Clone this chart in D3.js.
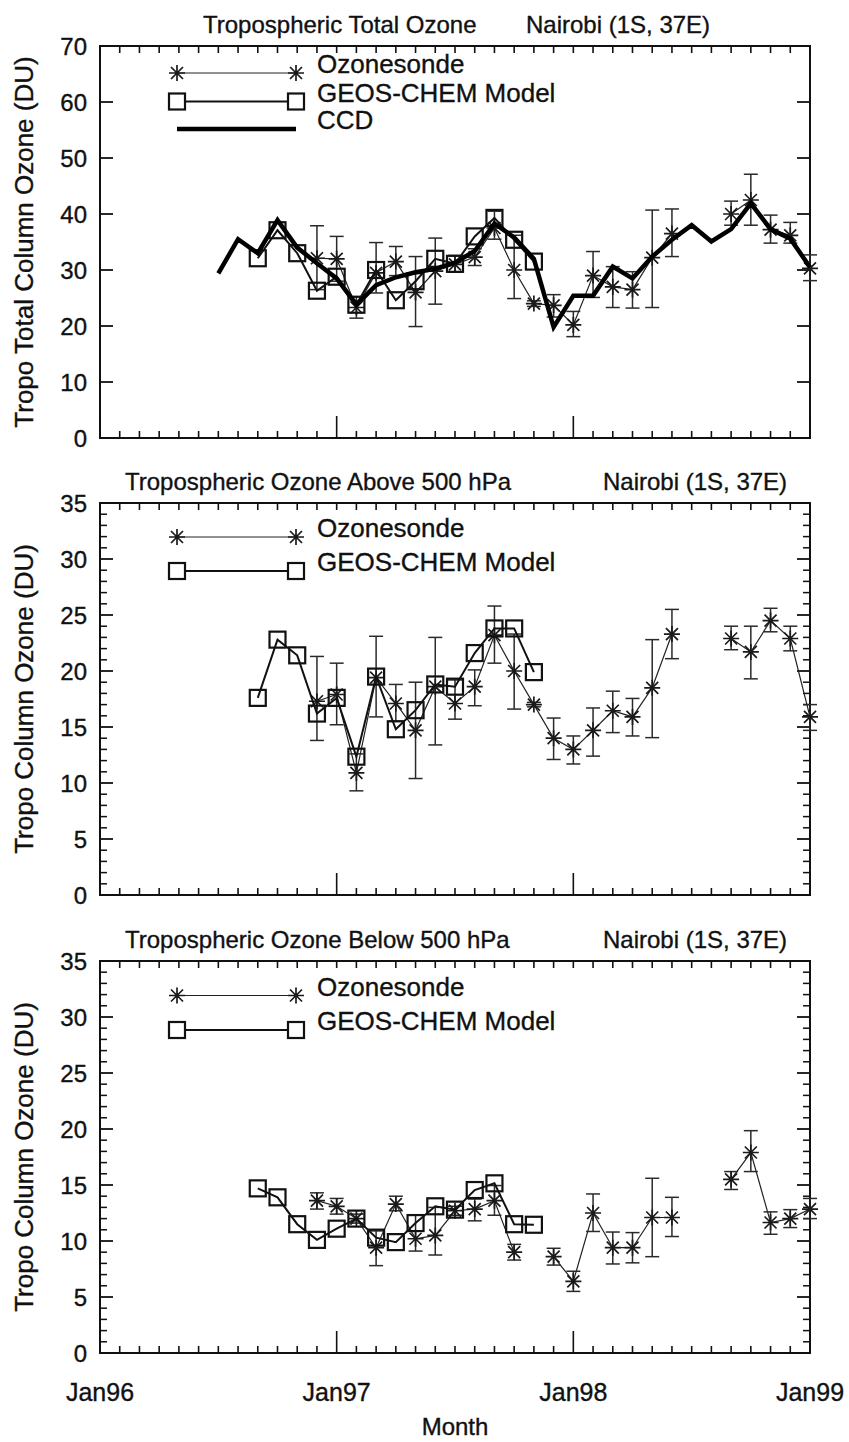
<!DOCTYPE html>
<html><head><meta charset="utf-8">
<script src="https://cdn.jsdelivr.net/npm/d3@7"></script>
<style>
body{margin:0;background:#fff}
svg text{font-family:"Liberation Sans",Arial,Helvetica,sans-serif;fill:#111;stroke:#111;stroke-width:0.35px}
</style>
</head><body>
<svg id="chart" width="849" height="1442"></svg>
<script>
// ---------------- DATA ----------------
const months = ["Jul96","Aug96","Sep96","Oct96","Nov96","Dec96","Jan97","Feb97","Mar97","Apr97","May97","Jun97",
  "Jul97","Aug97","Sep97","Oct97","Nov97","Dec97","Jan98","Feb98","Mar98","Apr98","May98","Jun98",
  "Jul98","Aug98","Sep98","Oct98","Nov98","Dec98","Jan99"];
const xTickLabels = ["Jan96","Jan97","Jan98","Jan99"];
const yTicksTotal = [0,10,20,30,40,50,60,70];
const yTicksHalf = [0,5,10,15,20,25,30,35];

// Panel 1: tropospheric total column ozone
const ccdTotal = [29.4,35.5,33.0,38.9,34.0,31.2,28.5,23.8,27.3,28.7,29.6,30.2,31.3,33.4,38.3,35.8,32.0,19.8,25.4,25.4,30.6,28.5,32.4,35.4,38.0,35.1,37.3,41.9,37.3,35.6,30.5];
const modelTotal = [null,null,32.1,37.1,33.0,26.3,28.8,23.8,30.0,24.6,28.0,32.0,31.1,36.0,39.3,35.4,31.5,null,null,null,null,null,null,null,null,null,null,null,null,null,null];
const sondeTotal = [null,null,null,null,null,32.1,32.0,23.3,29.5,31.5,26.0,29.8,31.0,32.3,37.5,30.0,24.0,23.7,20.2,29.0,27.0,26.5,32.2,36.5,null,null,40.0,42.5,37.2,36.2,30.3];
const sondeTotalLo = [null,null,null,null,null,26.5,28.0,21.4,25.9,29.0,19.9,23.9,29.6,30.8,35.5,24.9,23.5,21.6,18.1,25.1,23.3,23.2,23.3,32.4,null,null,38.0,38.0,34.8,34.8,28.1];
const sondeTotalHi = [null,null,null,null,null,37.9,36.0,25.2,34.9,34.2,32.4,35.7,32.6,33.8,40.5,36.2,24.5,25.6,22.6,33.3,30.6,29.7,40.7,40.9,null,null,42.3,47.1,39.8,38.5,32.7];

// Panel 2: above 500 hPa
const modelAbove = [null,null,17.6,22.8,21.4,16.2,17.6,12.35,19.5,14.8,16.5,18.8,18.6,21.6,23.8,23.8,19.9,null,null,null,null,null,null,null,null,null,null,null,null,null,null];
const sondeAbove = [null,null,null,null,null,17.3,17.9,10.9,19.4,17.1,14.7,18.6,17.1,18.6,23.2,20.0,17.0,14.0,13.0,14.7,16.45,15.9,18.5,23.3,null,null,22.9,21.7,24.5,22.9,15.9];
const sondeAboveLo = [null,null,null,null,null,13.8,15.2,9.3,15.9,15.5,10.4,13.4,15.7,16.9,20.7,16.6,16.8,12.1,11.7,12.4,14.5,14.2,14.05,21.1,null,null,21.9,19.3,23.5,21.8,14.7];
const sondeAboveHi = [null,null,null,null,null,21.3,20.7,12.6,23.1,18.8,19.0,23.0,19.2,20.1,25.8,23.3,17.2,15.8,14.2,16.7,18.2,17.55,22.8,25.5,null,null,24.0,24.0,25.6,24.0,17.0];

// Panel 3: below 500 hPa
const modelBelow = [null,null,14.7,13.9,11.5,10.1,11.1,12.0,10.3,9.9,11.6,13.1,12.8,14.55,15.15,11.5,11.45,null,null,null,null,null,null,null,null,null,null,null,null,null,null];
const sondeBelow = [null,null,null,null,null,13.6,13.1,12.0,9.4,13.3,10.2,10.5,12.7,12.85,13.6,9.0,null,8.6,6.4,12.5,9.4,9.4,12.1,12.1,null,null,15.5,17.9,11.65,12.0,12.85];
const sondeBelowLo = [null,null,null,null,null,12.85,12.4,11.6,7.8,12.7,9.1,8.75,12.3,11.8,12.3,8.3,null,7.85,5.5,10.85,7.95,8.05,8.6,10.4,null,null,14.6,16.2,10.6,11.2,12.0];
const sondeBelowHi = [null,null,null,null,null,14.3,13.8,12.4,10.9,14.0,12.3,13.0,13.1,13.75,14.95,9.7,null,9.35,7.3,14.2,10.8,10.75,15.6,13.9,null,null,16.2,19.85,12.6,12.8,13.8];

// ---------------- DRAW ----------------
const svg = d3.select("#chart");
svg.append("rect").attr("width",849).attr("height",1442).attr("fill","#fff");

const parseM = d3.timeParse("%b%y");
const monthIndex = s => { const d = parseM(s); return (d.getFullYear()-1996)*12 + d.getMonth(); };
const mIdx = months.map(monthIndex);

const L = 100, R = 810, H = 392;
const x = d3.scaleLinear().domain([0,36]).range([L,R]);

const panels = [
  {top:46, ymax:70, ticks:yTicksTotal, minor:false, title:"Tropospheric Total Ozone", titleX:203, siteX:526,
   ytitle:"Tropo Total Column Ozone (DU)", sonde:sondeTotal, lo:sondeTotalLo, hi:sondeTotalHi, model:modelTotal, ccd:ccdTotal,
   legendY:[73,101.5,129]},
  {top:503, ymax:35, ticks:yTicksHalf, minor:true, title:"Tropospheric Ozone Above 500 hPa", titleX:125, siteX:603,
   ytitle:"Tropo Column Ozone (DU)", sonde:sondeAbove, lo:sondeAboveLo, hi:sondeAboveHi, model:modelAbove, ccd:null,
   legendY:[537,571]},
  {top:961, ymax:35, ticks:yTicksHalf, minor:true, title:"Tropospheric Ozone Below 500 hPa", titleX:125, siteX:603,
   ytitle:"Tropo Column Ozone (DU)", sonde:sondeBelow, lo:sondeBelowLo, hi:sondeBelowHi, model:modelBelow, ccd:null,
   legendY:[995.5,1030]}
];

const ink = "#111";
const asterR = 8;
const asterPath = (r) => {
  const d = r*0.75;
  return `M0,${-r}V${r}M${-r},0H${r}M${-d},${-d}L${d},${d}M${-d},${d}L${d},${-d}`;
};
const sq = 16;

panels.forEach(p => {
  const g = svg.append("g");
  const y = d3.scaleLinear().domain([0,p.ymax]).range([p.top+H, p.top]);
  const B = p.top + H;

  // frame
  g.append("rect").attr("x",L).attr("y",p.top).attr("width",R-L).attr("height",H)
    .attr("fill","none").attr("stroke",ink).attr("stroke-width",2);

  // month ticks
  const monthTicks = d3.range(0,37);
  g.selectAll(".mt").data(monthTicks).join("line").attr("class","mt")
    .attr("x1",d=>x(d)).attr("x2",d=>x(d)).attr("y1",B).attr("y2",d=> (d%12===0)? B-22 : B-7)
    .attr("stroke",ink).attr("stroke-width",1.6);
  g.selectAll(".mtt").data(monthTicks).join("line").attr("class","mtt")
    .attr("x1",d=>x(d)).attr("x2",d=>x(d)).attr("y1",p.top).attr("y2",p.top+7)
    .attr("stroke",ink).attr("stroke-width",1.6);

  // minor y ticks (every 1 DU)
  if (p.minor) {
    const mt = y.ticks(p.ymax).filter(v => !p.ticks.includes(v));
    mt.forEach(v => {
      g.append("line").attr("x1",L).attr("x2",L+7).attr("y1",y(v)).attr("y2",y(v))
        .attr("stroke",ink).attr("stroke-width",1.5);
      g.append("line").attr("x1",R).attr("x2",R-7).attr("y1",y(v)).attr("y2",y(v))
        .attr("stroke",ink).attr("stroke-width",1.5);
    });
  }
  // y ticks
  g.selectAll(".yt").data(p.ticks).join("line").attr("class","yt")
    .attr("x1",L).attr("x2",L+13).attr("y1",d=>y(d)).attr("y2",d=>y(d))
    .attr("stroke",ink).attr("stroke-width",1.8);
  g.selectAll(".ytr").data(p.ticks).join("line").attr("class","ytr")
    .attr("x1",R).attr("x2",R-13).attr("y1",d=>y(d)).attr("y2",d=>y(d))
    .attr("stroke",ink).attr("stroke-width",1.8);
  g.selectAll(".yl").data(p.ticks).join("text").attr("class","yl")
    .attr("x",L-13).attr("y",d=>y(d)).attr("dy","0.36em").attr("text-anchor","end")
    .attr("font-size",24).text(d=>d);

  // titles
  g.append("text").attr("x",p.titleX).attr("y",p.top-13).attr("font-size",24).text(p.title);
  g.append("text").attr("x",p.siteX).attr("y",p.top-13).attr("font-size",24).text("Nairobi (1S, 37E)");
  g.append("text").attr("transform",`translate(33,${p.top+H/2}) rotate(-90)`)
    .attr("text-anchor","middle").attr("font-size",26).text(p.ytitle);

  const pts = (arr) => arr.map((v,i)=>({m:mIdx[i], v}));

  // ozonesonde
  const sd = pts(p.sonde).map((d,i)=>({...d, lo:p.lo[i], hi:p.hi[i]}));
  const line = d3.line().defined(d=>d.v!==null).x(d=>x(d.m)).y(d=>y(d.v));
  g.append("path").attr("d",line(sd)).attr("fill","none").attr("stroke","#222").attr("stroke-width",1.2);
  const sv = sd.filter(d=>d.v!==null);
  const eb = g.selectAll(".eb").data(sv).join("g").attr("class","eb").attr("stroke","#2a2a2a").attr("stroke-width",1.5);
  eb.append("line").attr("x1",d=>x(d.m)).attr("x2",d=>x(d.m)).attr("y1",d=>y(d.lo)).attr("y2",d=>y(d.hi));
  eb.append("line").attr("x1",d=>x(d.m)-7).attr("x2",d=>x(d.m)+7).attr("y1",d=>y(d.lo)).attr("y2",d=>y(d.lo));
  eb.append("line").attr("x1",d=>x(d.m)-7).attr("x2",d=>x(d.m)+7).attr("y1",d=>y(d.hi)).attr("y2",d=>y(d.hi));
  g.selectAll(".as").data(sv).join("path").attr("class","as")
    .attr("transform",d=>`translate(${x(d.m)},${y(d.v)})`).attr("d",asterPath(asterR))
    .attr("fill","none").attr("stroke","#1a1a1a").attr("stroke-width",1.7);

  // model
  const md = pts(p.model);
  g.append("path").attr("d",line(md)).attr("fill","none").attr("stroke",ink).attr("stroke-width",2);
  g.selectAll(".sq").data(md.filter(d=>d.v!==null)).join("rect").attr("class","sq")
    .attr("x",d=>x(d.m)-sq/2).attr("y",d=>y(d.v)-sq/2).attr("width",sq).attr("height",sq)
    .attr("fill","none").attr("stroke",ink).attr("stroke-width",2.2);

  // CCD
  if (p.ccd) {
    g.append("path").attr("d",line(pts(p.ccd))).attr("fill","none").attr("stroke","#000")
      .attr("stroke-width",4.5).attr("stroke-linejoin","miter");
  }

  // legend
  const lx1 = 177, lx2 = 296, tx = 317;
  const ly = p.legendY;
  g.append("line").attr("x1",lx1).attr("x2",lx2).attr("y1",ly[0]).attr("y2",ly[0]).attr("stroke","#222").attr("stroke-width",1.2);
  [lx1,lx2].forEach(xx=> g.append("path").attr("transform",`translate(${xx},${ly[0]})`).attr("d",asterPath(asterR))
      .attr("fill","none").attr("stroke","#1a1a1a").attr("stroke-width",1.7));
  g.append("text").attr("x",tx).attr("y",ly[0]).attr("font-size",26).text("Ozonesonde");
  g.append("line").attr("x1",lx1).attr("x2",lx2).attr("y1",ly[1]).attr("y2",ly[1]).attr("stroke",ink).attr("stroke-width",2);
  [lx1,lx2].forEach(xx=> g.append("rect").attr("x",xx-sq/2).attr("y",ly[1]-sq/2).attr("width",sq).attr("height",sq)
      .attr("fill","#fff").attr("stroke",ink).attr("stroke-width",2.2));
  g.append("text").attr("x",tx).attr("y",ly[1]).attr("font-size",26).text("GEOS-CHEM Model");
  if (p.ccd) {
    g.append("line").attr("x1",lx1).attr("x2",lx2).attr("y1",ly[2]).attr("y2",ly[2]).attr("stroke","#000").attr("stroke-width",4.5);
    g.append("text").attr("x",tx).attr("y",ly[2]).attr("font-size",26).text("CCD");
  }
});

// bottom axis labels
svg.selectAll(".xl").data(xTickLabels).join("text").attr("class","xl")
  .attr("x",(d,i)=>x(i*12)).attr("y",1401).attr("text-anchor","middle").attr("font-size",25).text(d=>d);
svg.append("text").attr("x",455).attr("y",1435).attr("text-anchor","middle").attr("font-size",24).text("Month");
</script>
</body></html>
